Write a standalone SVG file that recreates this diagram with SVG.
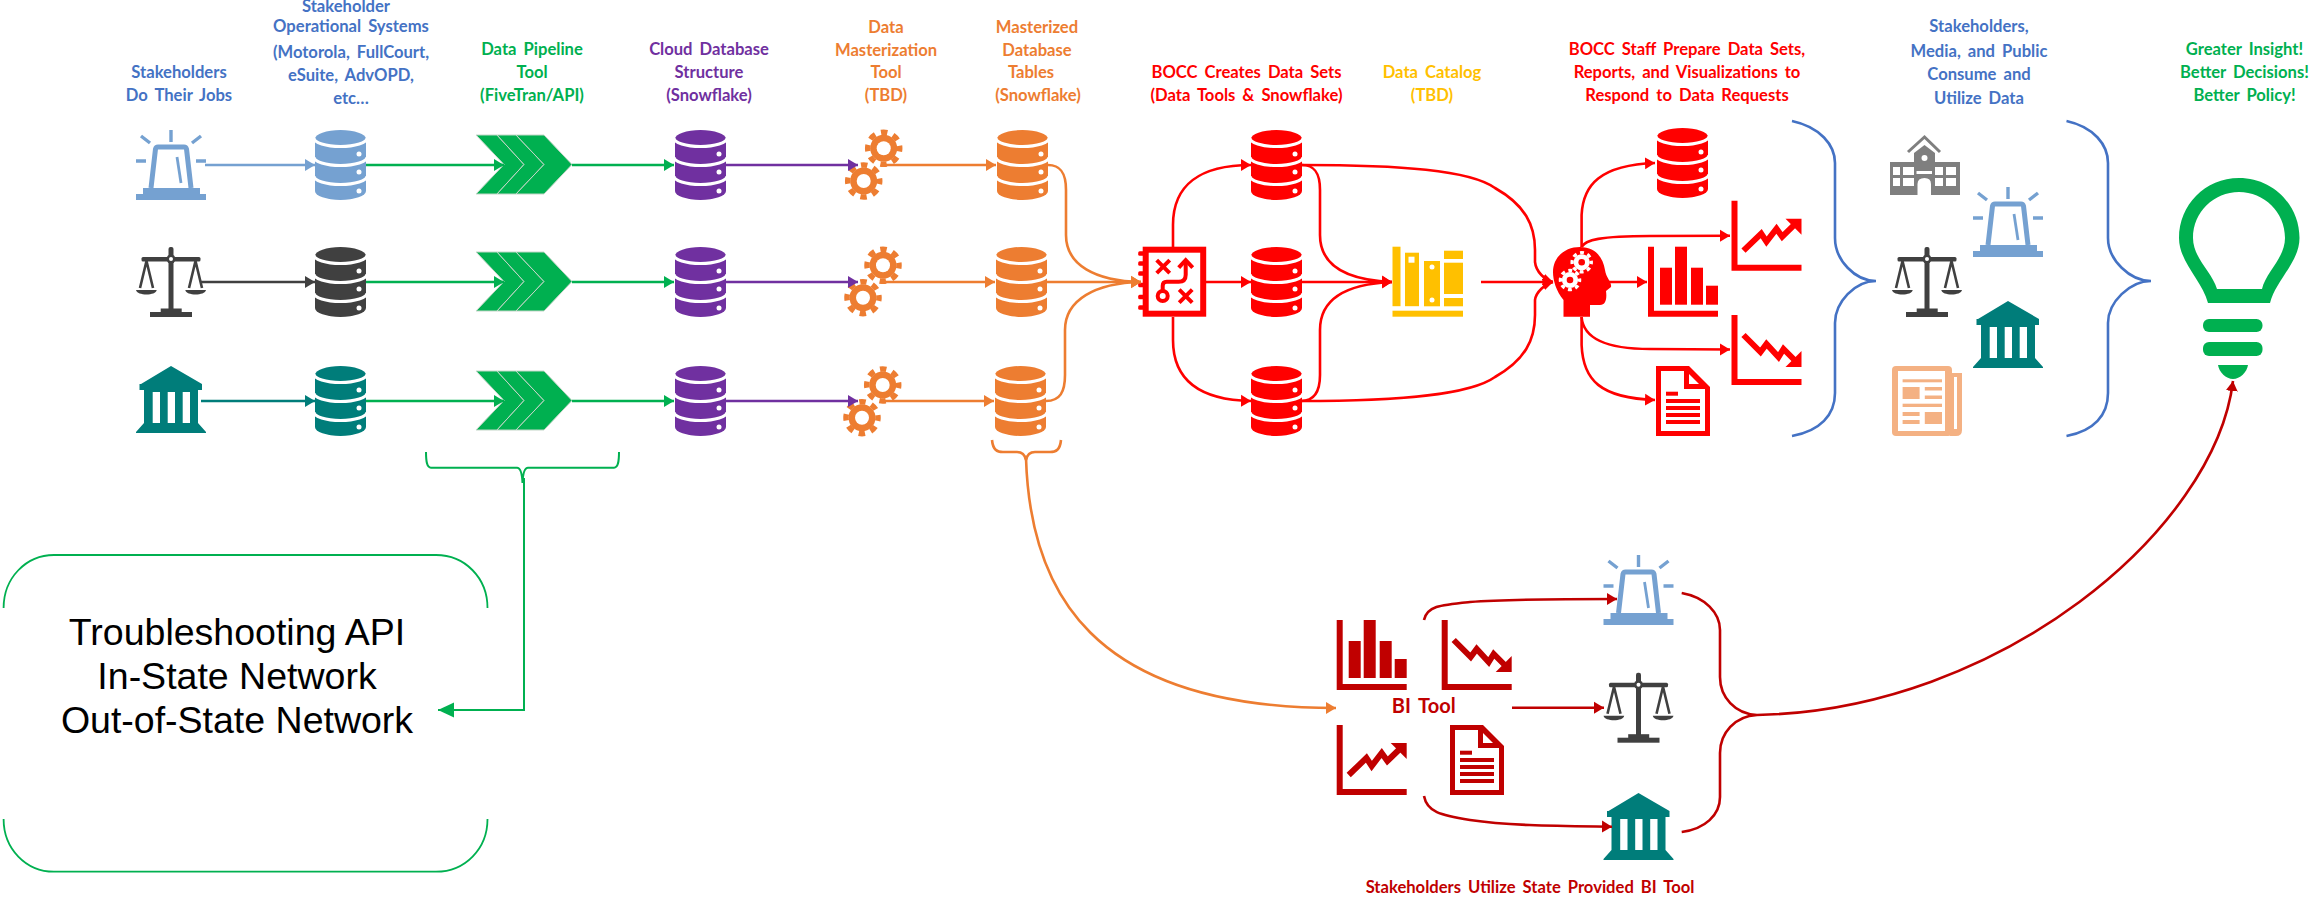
<svg xmlns="http://www.w3.org/2000/svg" xmlns:xlink="http://www.w3.org/1999/xlink" width="2310" height="897" viewBox="0 0 2310 897">
<style>
text{font-family:"Lato","Liberation Sans",sans-serif;font-weight:700;font-size:16.6px;text-anchor:middle;word-spacing:3px}
.lb{fill:#4472c4}.lg{fill:#00b050}.lp{fill:#7030a0}.lo{fill:#ed7d31}.lr{fill:#ff0000}.ly{fill:#ffc000}.ld{fill:#c00000}
.big{font-family:"Liberation Sans",Arial,sans-serif;font-weight:400;font-size:37.5px;fill:#000;word-spacing:0}
.blue{color:#75a1d1}.dark{color:#404040}.teal{color:#007d7a}.purple{color:#7030a0}.orange{color:#ed7d31}.red{color:#ff0000}.dred{color:#c00000}.grey{color:#7f7f7f}.peach{color:#f4b183}.green{color:#00b050}.yellow{color:#ffc000}
.c{fill:none;stroke-width:2.6}
.w{fill:#fff}
</style>
<defs>
<marker id="mBlue" markerUnits="userSpaceOnUse" markerWidth="10" markerHeight="14" refX="10" refY="7" orient="auto"><path d="M0,1 L10,7 L0,13 Z" fill="#75a1d1"/></marker>
<marker id="mDark" markerUnits="userSpaceOnUse" markerWidth="10" markerHeight="14" refX="10" refY="7" orient="auto"><path d="M0,1 L10,7 L0,13 Z" fill="#404040"/></marker>
<marker id="mTeal" markerUnits="userSpaceOnUse" markerWidth="10" markerHeight="14" refX="10" refY="7" orient="auto"><path d="M0,1 L10,7 L0,13 Z" fill="#007d7a"/></marker>
<marker id="mGreen" markerUnits="userSpaceOnUse" markerWidth="10" markerHeight="14" refX="10" refY="7" orient="auto"><path d="M0,1 L10,7 L0,13 Z" fill="#00b050"/></marker>
<marker id="mGreenL" markerUnits="userSpaceOnUse" markerWidth="16" markerHeight="16" refX="16" refY="8" orient="auto"><path d="M0,0.5 L16,8 L0,15.5 Z" fill="#00b050"/></marker>
<marker id="mPurple" markerUnits="userSpaceOnUse" markerWidth="10" markerHeight="14" refX="10" refY="7" orient="auto"><path d="M0,1 L10,7 L0,13 Z" fill="#7030a0"/></marker>
<marker id="mOrange" markerUnits="userSpaceOnUse" markerWidth="10" markerHeight="14" refX="10" refY="7" orient="auto"><path d="M0,1 L10,7 L0,13 Z" fill="#ed7d31"/></marker>
<marker id="mRed" markerUnits="userSpaceOnUse" markerWidth="10" markerHeight="14" refX="10" refY="7" orient="auto"><path d="M0,1 L10,7 L0,13 Z" fill="#ff0000"/></marker>
<marker id="mDred" markerUnits="userSpaceOnUse" markerWidth="10" markerHeight="14" refX="10" refY="7" orient="auto"><path d="M0,1 L10,7 L0,13 Z" fill="#c00000"/></marker>

<g id="db">
<path fill="currentColor" d="M0,9 A25.5,9 0 0 1 51,9 V61 A25.5,9 0 0 1 0,61 Z"/>
<g fill="none" stroke="#fff" stroke-width="3"><path d="M-1,8 A26.5,8.5 0 0 0 52,8"/><path d="M-1,27 A26.5,8.5 0 0 0 52,27"/><path d="M-1,46 A26.5,8.5 0 0 0 52,46"/></g>
<circle class="w" cx="44" cy="24" r="2.5"/><circle class="w" cx="44" cy="42" r="2.5"/><circle class="w" cx="44" cy="61" r="2.5"/>
</g>
<g id="alarm">
<g fill="none" stroke="currentColor" stroke-width="3.4"><path d="M35,0V12M5,6L14,13M65,6L56,13M0,31H10M60,31H70"/><path stroke-width="5" d="M15,58L19.500,19Q20,17 22,17H48Q50,17 50.500,19L55,58"/><path d="M41,27L45,53" stroke-width="2.800"/></g>
<path fill="currentColor" d="M7,58H64V64H70V70H0V64H7Z"/>
</g>
<g id="scales" fill="currentColor">
<rect x="32.500" y="0" width="5" height="65" rx="2"/>
<rect x="5.500" y="10" width="59" height="4.500" rx="1.500"/>
<circle cx="35" cy="12" r="4.500"/><circle class="w" cx="35" cy="12" r="2"/>
<g fill="none" stroke="currentColor" stroke-width="2.600"><path d="M4,41L10.500,14L17,41"/><path d="M53,41L59.500,14L66,41"/></g>
<path d="M0,43H20.700C20,49 1,49 0,43Z"/><path d="M49.300,43H70C69,49 50,49 49.300,43Z"/>
<rect x="24.700" y="61.500" width="21" height="4"/><rect x="14" y="65" width="42" height="5"/>
</g>
<g id="bank" fill="currentColor">
<path d="M35,0L66,18V24H62V57L70,66V67H0V66L8,57V24H3.500V18H5Z"/>
<rect class="w" x="16.700" y="26" width="7.300" height="31"/><rect class="w" x="31.700" y="26" width="7.300" height="31"/><rect class="w" x="46.700" y="26" width="7.300" height="31"/>
</g>
<g id="chev" fill="#00b050" stroke="#c4d6c8" stroke-width="1">
<path d="M0,0H21L48,29.500L21,59H0L28,29.500Z"/>
<path d="M21,0H40L68,29.500L40,59H21L48,29.500Z"/>
<path d="M40,0H68L96,29.500L68,59H40L68,29.500Z"/>
</g>
<g id="gear">
<circle r="13.500" fill="currentColor"/>
<circle r="16" fill="none" stroke="currentColor" stroke-width="5.500" stroke-dasharray="6.500 6.066" stroke-dashoffset="3.250"/>
<circle r="7" fill="#fff"/>
</g>
<g id="bars" fill="currentColor">
<path d="M0,0H6V64H70V70H0Z"/>
<rect x="12" y="21" width="12" height="37"/><rect x="27" y="0" width="12" height="58"/><rect x="43" y="21" width="12" height="37"/><rect x="58" y="39" width="12" height="19"/>
</g>
<g id="trendup">
<path fill="currentColor" d="M0,0H6V64H70V70H0Z"/>
<path fill="none" stroke="currentColor" stroke-width="6" d="M12,50L29.700,33L35,41L45,28L50.700,36L62,25"/>
<path fill="currentColor" d="M70,18V34L54,18Z"/>
</g>
<g id="trenddown">
<path fill="currentColor" d="M0,0H6V64H70V70H0Z"/>
<path fill="none" stroke="currentColor" stroke-width="6" d="M12,20L29,37L35,29L47,42L52,34L64,46"/>
<path fill="currentColor" d="M70,36V52H54Z"/>
</g>
<g id="doc">
<path fill="currentColor" d="M0,0H33L54,21V70H0Z"/>
<path class="w" d="M5,5H28V23H49V65H5Z"/><path class="w" d="M33,8L43,18H33Z"/>
<g fill="currentColor"><rect x="10" y="25.700" width="12" height="4"/><rect x="10" y="33" width="34" height="4"/><rect x="10" y="40" width="34" height="4"/><rect x="10" y="47" width="34" height="4"/><rect x="10" y="54" width="34" height="4"/></g>
</g>
</defs>

<g id="node-alarm-1" class="blue"><use href="#alarm" x="136" y="130"/></g>
<g id="node-scales-1" class="dark"><use href="#scales" x="136" y="247"/></g>
<g id="node-bank-1" class="teal"><use href="#bank" x="136" y="366"/></g>
<g id="node-opsys-1" class="blue"><use href="#db" x="315" y="130"/></g>
<g id="node-opsys-2" class="dark"><use href="#db" x="315" y="247"/></g>
<g id="node-opsys-3" class="teal"><use href="#db" x="315" y="366"/></g>
<g id="node-pipe-1"><use href="#chev" x="476" y="135"/></g>
<g id="node-pipe-2"><use href="#chev" x="476" y="252"/></g>
<g id="node-pipe-3"><use href="#chev" x="476" y="371"/></g>
<g id="node-cloud-1" class="purple"><use href="#db" x="675" y="130"/></g>
<g id="node-cloud-2" class="purple"><use href="#db" x="675" y="247"/></g>
<g id="node-cloud-3" class="purple"><use href="#db" x="675" y="366"/></g>
<g id="node-master-1" class="orange"><use href="#gear" x="883.700" y="148.300"/><use href="#gear" x="863.700" y="181"/></g>
<g id="node-master-2" class="orange"><use href="#gear" x="883" y="265.300"/><use href="#gear" x="863" y="297.700"/></g>
<g id="node-master-3" class="orange"><use href="#gear" x="882.700" y="385"/><use href="#gear" x="862" y="417.700"/></g>
<g id="node-table-1" class="orange"><use href="#db" x="997" y="130"/></g>
<g id="node-table-2" class="orange"><use href="#db" x="996" y="247"/></g>
<g id="node-table-3" class="orange"><use href="#db" x="995" y="366"/></g>
<g id="node-strategy" class="red" transform="translate(1142.700,246.700)">
<g fill="#ff0000"><rect x="-4.500" y="4.500" width="6" height="4.500" rx="1.500"/><rect x="-4.500" y="14.500" width="6" height="4.500" rx="1.500"/><rect x="-4.500" y="24.500" width="6" height="4.500" rx="1.500"/><rect x="-4.500" y="36" width="6" height="4.500" rx="1.500"/><rect x="-4.500" y="48" width="6" height="4.500" rx="1.500"/><rect x="-4.500" y="58.500" width="6" height="4.500" rx="1.500"/></g>
<rect x="3" y="3" width="57.500" height="64" fill="#fff" stroke="#ff0000" stroke-width="6"/>
<g fill="none" stroke="#ff0000" stroke-width="4"><path d="M14,13.500L27,26.500M27,13.500L14,26.500"/><path d="M36.500,43L49.500,56M49.500,43L36.500,56"/><circle cx="20" cy="49.300" r="5"/><path d="M20,44V39Q20,35 24,35H36Q43,35 43,28V15"/><path d="M36,21L43,13.500L50,21"/></g>
</g>
<g id="node-set-1" class="red"><use href="#db" x="1251" y="130"/></g>
<g id="node-set-2" class="red"><use href="#db" x="1251" y="247"/></g>
<g id="node-set-3" class="red"><use href="#db" x="1251" y="366"/></g>
<g id="node-catalog" fill="#ffc000">
<rect x="1392.500" y="310.700" width="70.500" height="6"/><rect x="1392.500" y="246.700" width="8" height="59.500"/>
<rect x="1405" y="252.700" width="14" height="53.500"/><rect class="w" x="1408.500" y="256.700" width="6" height="6"/>
<rect x="1424" y="261" width="16" height="45.300"/><circle class="w" cx="1432" cy="267" r="2.500"/><circle class="w" cx="1432" cy="300" r="2.500"/>
<rect x="1444" y="250.700" width="19" height="8.300"/><rect x="1444" y="262.700" width="19" height="31.300"/><rect x="1444" y="298" width="19" height="8.300"/>
</g>
<g id="node-head" class="red">
<path fill="#ff0000" d="M1563.500,316.700V300C1556,291 1553,280 1553,272C1553,257 1565,247 1580,247C1596,247 1603,258 1605,270C1606,278 1612,282 1611,287L1606,291C1607,298 1606,305 1600,305H1590V316.700Z"/>
<g style="color:#fff"><g transform="translate(1581.700,262.300) scale(.6)"><circle r="13.500" fill="#fff"/><circle r="16" fill="none" stroke="#fff" stroke-width="5.500" stroke-dasharray="6.500 6.066" stroke-dashoffset="3.250"/><circle r="5.500" fill="#ff0000"/></g><g transform="translate(1570,280) scale(.6)"><circle r="13.500" fill="#fff"/><circle r="16" fill="none" stroke="#fff" stroke-width="5.500" stroke-dasharray="6.500 6.066" stroke-dashoffset="3.250"/><circle r="5.500" fill="#ff0000"/></g></g>
</g>
<g id="node-out-db" class="red"><use href="#db" x="1657" y="128"/></g>
<g id="node-out-up" class="red"><use href="#trendup" x="1731.500" y="200.700"/></g>
<g id="node-out-bars" class="red"><use href="#bars" x="1648" y="246.700"/></g>
<g id="node-out-down" class="red"><use href="#trenddown" x="1731.500" y="315"/></g>
<g id="node-out-doc" class="red"><use href="#doc" x="1656" y="366"/></g>
<g id="node-school" fill="#7f7f7f" transform="translate(1890,135)">
<path fill="none" stroke="#7f7f7f" stroke-width="3" d="M18,17L34.500,2L50,17"/>
<path d="M24,27V18L34.500,10L45,18V27H70V60H0V27Z"/>
<circle class="w" cx="34.500" cy="23" r="3"/>
<g class="w"><rect x="3" y="32" width="7" height="8"/><rect x="13" y="32" width="11" height="8"/><rect x="45" y="32" width="8" height="8"/><rect x="56" y="32" width="10" height="8"/><rect x="3" y="43" width="7" height="8"/><rect x="13" y="43" width="11" height="8"/><rect x="45" y="43" width="8" height="8"/><rect x="56" y="43" width="10" height="8"/><rect x="26.500" y="36" width="15.500" height="3"/><path d="M27.500,60V49Q27.500,43 34.500,43Q41,43 41,49V60Z"/></g>
</g>
<g id="node-alarm-2" class="blue"><use href="#alarm" x="1973" y="187"/></g>
<g id="node-scales-2" class="dark"><use href="#scales" x="1892" y="247"/></g>
<g id="node-bank-2" class="teal"><use href="#bank" x="1973" y="301"/></g>
<g id="node-news" transform="translate(1892,366)" fill="#f4b183">
<rect x="0" y="0" width="60" height="70" rx="4"/><path d="M60,7H70V64Q70,70 64,70H58Z"/>
<rect class="w" x="6" y="5" width="47" height="60"/><rect class="w" x="62" y="11" width="3" height="52"/>
<rect x="10.600" y="13.300" width="39.400" height="3"/><rect x="10.600" y="21" width="17" height="12"/><rect x="32.800" y="21" width="17.200" height="3.500"/><rect x="32.800" y="29.500" width="17.200" height="3.500"/><rect x="10.600" y="37.700" width="39.400" height="3.300"/><rect x="10.600" y="46" width="17" height="4"/><rect x="10.600" y="54" width="17" height="4"/><rect x="32.800" y="46" width="17.200" height="12"/>
</g>
<g id="node-bulb" fill="#00b050">
<path fill-rule="evenodd" d="M2208,303C2202,280 2179,262 2179,238C2179,205 2205,178 2239,178C2273,178 2299.500,205 2299.500,238C2299.500,262 2276,280 2270,303ZM2217,289H2262C2266,272 2285,258 2285,238C2285,212 2264,192 2239,192C2214,192 2193,212 2193,238C2193,258 2212,272 2217,289Z"/>
<rect x="2203" y="319" width="59.500" height="13" rx="6"/><rect x="2203" y="342" width="59.500" height="14" rx="6"/>
<path d="M2218,365H2248C2247,372 2240,379 2233,379C2226,379 2219,372 2218,365Z"/>
</g>
<g id="node-bi-bars" class="dred"><use href="#bars" x="1336.700" y="620"/></g>
<g id="node-bi-down" class="dred"><use href="#trenddown" x="1441.700" y="620"/></g>
<g id="node-bi-up" class="dred"><use href="#trendup" x="1336.700" y="725"/></g>
<g id="node-bi-doc" class="dred"><use href="#doc" x="1450" y="725"/></g>
<g id="node-alarm-3" class="blue"><use href="#alarm" x="1603.500" y="555"/></g>
<g id="node-scales-3" class="dark"><use href="#scales" x="1603.500" y="672.700"/></g>
<g id="node-bank-3" class="teal"><use href="#bank" x="1603.500" y="793"/></g>
<g id="node-trouble">
<path fill="none" stroke="#00b050" stroke-width="1.800" d="M3.600,608C3.600,578 26,555 54,555H436C465,555 487.500,578 487.500,608M3.600,819C3.600,849 26,871.700 54,871.700H436C465,871.700 487.500,849 487.500,819"/>
<text class="big" x="237" y="645">Troubleshooting API</text>
<text class="big" x="237" y="689">In-State Network</text>
<text class="big" x="237" y="733">Out-of-State Network</text>
</g>

<g id="connectors">
<g class="c" stroke="#75a1d1"><path marker-end="url(#mBlue)" d="M205,165H315"/></g>
<path class="c" stroke="#404040" marker-end="url(#mDark)" d="M201,282H315"/>
<path class="c" stroke="#007d7a" marker-end="url(#mTeal)" d="M201,401H315"/>
<g class="c" stroke="#00b050">
<path marker-end="url(#mGreen)" d="M366,165H504"/><path marker-end="url(#mGreen)" d="M366,282H504"/><path marker-end="url(#mGreen)" d="M366,401H504"/>
<path marker-end="url(#mGreen)" d="M572,165H674"/><path marker-end="url(#mGreen)" d="M572,282H674"/><path marker-end="url(#mGreen)" d="M572,401H674"/>
</g>
<g class="c" stroke="#7030a0">
<path marker-end="url(#mPurple)" d="M726,165H858"/><path marker-end="url(#mPurple)" d="M726,282H858"/><path marker-end="url(#mPurple)" d="M726,401H858"/>
</g>
<g class="c" stroke="#ed7d31">
<path marker-end="url(#mOrange)" d="M884,165H996"/><path marker-end="url(#mOrange)" d="M884,282H995"/><path marker-end="url(#mOrange)" d="M884,401H994"/>
<path marker-end="url(#mOrange)" d="M1048,165C1060,165 1066,172 1066,190V235C1066,265 1095,281 1141,282"/>
<path marker-end="url(#mOrange)" d="M1047,282H1141"/>
<path marker-end="url(#mOrange)" d="M1046,401C1060,401 1065,392 1065,375V330C1065,300 1095,283 1141,282"/>
<path d="M992,440C993,450 997,452 1003,452H1017C1022,452 1025,455 1026,460C1027,455 1030,452 1035,452H1050C1056,452 1060,450 1061,440"/>
<path marker-end="url(#mOrange)" d="M1026,458C1030,590 1090,708 1336,708"/>
</g>
<g class="c" stroke="#ff0000">
<path marker-end="url(#mRed)" d="M1173,247V225C1173,185 1200,165 1251,165"/>
<path marker-end="url(#mRed)" d="M1173,317V340C1173,380 1200,400 1251,401"/>
<path marker-end="url(#mRed)" d="M1206,282H1251"/>
<path marker-end="url(#mRed)" d="M1302,165C1314,165 1320,172 1320,190V235C1320,265 1345,280 1392,282"/>
<path marker-end="url(#mRed)" d="M1302,282H1392"/>
<path marker-end="url(#mRed)" d="M1301,401C1314,401 1320,392 1320,375V330C1320,300 1345,284 1392,282"/>
<path marker-end="url(#mRed)" d="M1302,165C1400,165 1470,170 1495,188C1525,205 1535,225 1535,250V262C1536,272 1545,280 1553,282"/>
<path marker-end="url(#mRed)" d="M1301,401C1400,401 1470,395 1495,377C1525,360 1535,340 1535,315V300C1536,292 1545,284 1553,282"/>
<path marker-end="url(#mRed)" d="M1481,282H1553"/>
<path marker-end="url(#mRed)" d="M1581.600,247V215C1583,185 1600,165 1655,163"/>
<path marker-end="url(#mRed)" d="M1581.600,247C1585,240 1600,236 1650,236L1730,235.700"/>
<path marker-end="url(#mRed)" d="M1607,282H1647"/>
<path marker-end="url(#mRed)" d="M1581.600,317C1583,335 1600,349 1650,349L1730,349.500"/>
<path marker-end="url(#mRed)" d="M1581.600,317V345C1583,380 1600,398 1655,400"/>
</g>
<g class="c" stroke="#4472c4">
<path d="M1792,121C1820,127 1835,145 1835,163V238C1835,260 1855,281 1876,281C1855,281 1835,302 1835,323V393C1835,415 1820,431 1792,436"/>
<path d="M2066.500,121C2094,127 2108,145 2108,163V238C2108,260 2130,281 2151,281C2130,281 2108,302 2108,323V393C2108,415 2094,431 2066.500,436"/>
</g>
<g class="c" stroke="#00b050" style="stroke-width:2">
<path d="M426,452C426,462 427,467.700 431,467.700H517C520,467.700 522,472 522.500,483C523,472 525,467.700 528,467.700H614C618,467.700 619,462 619,452"/>
<path marker-end="url(#mGreenL)" d="M524,478V710H438"/>
</g>
<g class="c" stroke="#c00000">
<path marker-end="url(#mDred)" d="M1424,620C1427,606 1440,605 1470,602C1510,599 1560,599 1617,599"/>
<path marker-end="url(#mDred)" d="M1512,707.700H1604"/>
<path marker-end="url(#mDred)" d="M1424,796C1427,812 1440,815 1470,820C1510,826 1560,826 1612,826.700"/>
<path d="M1681.700,593C1705,597 1720,613 1720,630V677C1720,697 1735,714 1757,715C1735,716 1720,733 1720,753V797C1720,815 1705,829 1681.700,832"/>
<path marker-end="url(#mDred)" d="M1757,715C2000,710 2215,530 2233,381"/>
</g>
</g>

<g id="labels">
<text class="lb" x="179" y="78">Stakeholders</text><text class="lb" x="179" y="101">Do Their Jobs</text>
<text class="lb" x="346" y="12">Stakeholder</text><text class="lb" x="351" y="32">Operational Systems</text><text class="lb" x="351" y="58">(Motorola, FullCourt,</text><text class="lb" x="351" y="81">eSuite, AdvOPD,</text><text class="lb" x="351" y="104">etc…</text>
<text class="lg" x="532" y="55">Data Pipeline</text><text class="lg" x="532" y="78">Tool</text><text class="lg" x="532" y="101">(FiveTran/API)</text>
<text class="lp" x="709" y="55">Cloud Database</text><text class="lp" x="709" y="78">Structure</text><text class="lp" x="709" y="101">(Snowflake)</text>
<text class="lo" x="886" y="33">Data</text><text class="lo" x="886" y="56">Masterization</text><text class="lo" x="886" y="78">Tool</text><text class="lo" x="886" y="101">(TBD)</text>
<text class="lo" x="1037" y="33">Masterized</text><text class="lo" x="1037" y="56">Database</text><text class="lo" x="1031" y="78">Tables</text><text class="lo" x="1038" y="101">(Snowflake)</text>
<text class="lr" x="1246.500" y="78">BOCC Creates Data Sets</text><text class="lr" x="1246.500" y="101">(Data Tools &amp; Snowflake)</text>
<text class="ly" x="1432" y="78">Data Catalog</text><text class="ly" x="1432" y="101">(TBD)</text>
<text class="lr" x="1687" y="55">BOCC Staff Prepare Data Sets,</text><text class="lr" x="1687" y="78">Reports, and Visualizations to</text><text class="lr" x="1687" y="101">Respond to Data Requests</text>
<text class="lb" x="1979" y="32">Stakeholders,</text><text class="lb" x="1979" y="57">Media, and Public</text><text class="lb" x="1979" y="80">Consume and</text><text class="lb" x="1979" y="104">Utilize Data</text>
<text class="lg" x="2244.500" y="55">Greater Insight!</text><text class="lg" x="2244.500" y="78">Better Decisions!</text><text class="lg" x="2244.500" y="101">Better Policy!</text>
<text class="ld" x="1423.700" y="712.700" style="font-size:20px">BI Tool</text>
<text class="ld" x="1530" y="893">Stakeholders Utilize State Provided BI Tool</text>
</g>
</svg>
